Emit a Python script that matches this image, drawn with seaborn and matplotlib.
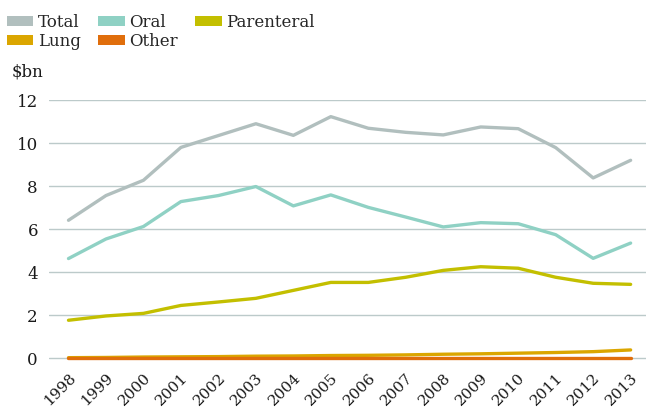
import pandas as pd
import matplotlib
matplotlib.use("Agg")
import matplotlib.pyplot as plt
from matplotlib.patches import Patch
import seaborn as sns

# Data ($bn)
years = list(range(1998, 2014))
total = [6.42, 7.57, 8.28, 9.81, 10.36, 10.91, 10.37, 11.24, 10.70, 10.51, 10.39, 10.76, 10.68, 9.80, 8.39, 9.21]
oral = [4.64, 5.55, 6.13, 7.29, 7.57, 7.99, 7.09, 7.60, 7.02, 6.57, 6.11, 6.31, 6.26, 5.75, 4.65, 5.36]
parenteral = [1.77, 1.97, 2.09, 2.46, 2.62, 2.79, 3.16, 3.53, 3.53, 3.77, 4.09, 4.26, 4.19, 3.77, 3.49, 3.44]
lung = [0.03, 0.04, 0.06, 0.07, 0.08, 0.10, 0.11, 0.13, 0.14, 0.16, 0.19, 0.21, 0.24, 0.27, 0.31, 0.39]
other = [0.01, 0.01, 0.01, 0.01, 0.01, 0.01, 0.01, 0.01, 0.01, 0.01, 0.01, 0.01, 0.01, 0.01, 0.01, 0.01]

segments = ["Total", "Oral", "Parenteral", "Lung", "Other"]
colours = ["#b1bfbe", "#8fd1c4", "#c3bf00", "#dba600", "#e06e0c"]

series = dict(zip(segments, [total, oral, parenteral, lung, other]))
df = pd.concat(
    [pd.DataFrame({"year": years, "value": vals, "segment": name}) for name, vals in series.items()],
    ignore_index=True,
)

sns.set_theme(style="white")
plt.rcParams["font.family"] = ["DejaVu Serif"]
plt.rcParams["font.size"] = 12

fig = plt.figure(figsize=(6.46, 4.08), dpi=100)
ax = fig.add_axes([49 / 646, 1 - 363.7 / 408, 1 - 49 / 646, (363.7 - 100.3) / 408])

sns.lineplot(
    data=df, x="year", y="value", hue="segment", hue_order=segments,
    palette=colours, linewidth=2.4, legend=False, ax=ax,
)

ax.set_xlim(1997.48, 2013.41)
ax.set_ylim(-0.25, 12)
ax.set_yticks(range(0, 13, 2))
ax.set_xticks(years)
ax.set_xlabel("")
ax.set_ylabel("")
ax.grid(axis="y", color="#bccaca", linewidth=1)
ax.grid(axis="x", visible=False)
ax.set_axisbelow(True)
for side in ax.spines.values():
    side.set_visible(False)
ax.tick_params(axis="both", length=0, colors="#1a1a1a")
ax.tick_params(axis="y", pad=8, labelsize=12)
ax.tick_params(axis="x", pad=5, labelsize=11)

# rotated year labels ending just at each point
for lab in ax.get_xticklabels():
    lab.set_rotation(45)
    lab.set_ha("right")
    lab.set_va("top")
    lab.set_rotation_mode("anchor")

# legend above the plot
handles = [Patch(facecolor=c, edgecolor="none") for c in colours]
order = [0, 3, 1, 4, 2]
fig.legend(
    [handles[i] for i in order], [segments[i] for i in order],
    loc="upper left", bbox_to_anchor=(0.0, 0.983), ncol=3, frameon=False,
    fontsize=12, handlelength=1.6, handleheight=0.55, handletextpad=0.3,
    columnspacing=1.0, labelspacing=0.15, borderaxespad=0.1, borderpad=0.3,
)

fig.text(12 / 646, 1 - 72 / 408, r"\$bn", fontsize=12, va="center", ha="left", color="#1a1a1a")

fig.savefig("out.png", dpi=100)
